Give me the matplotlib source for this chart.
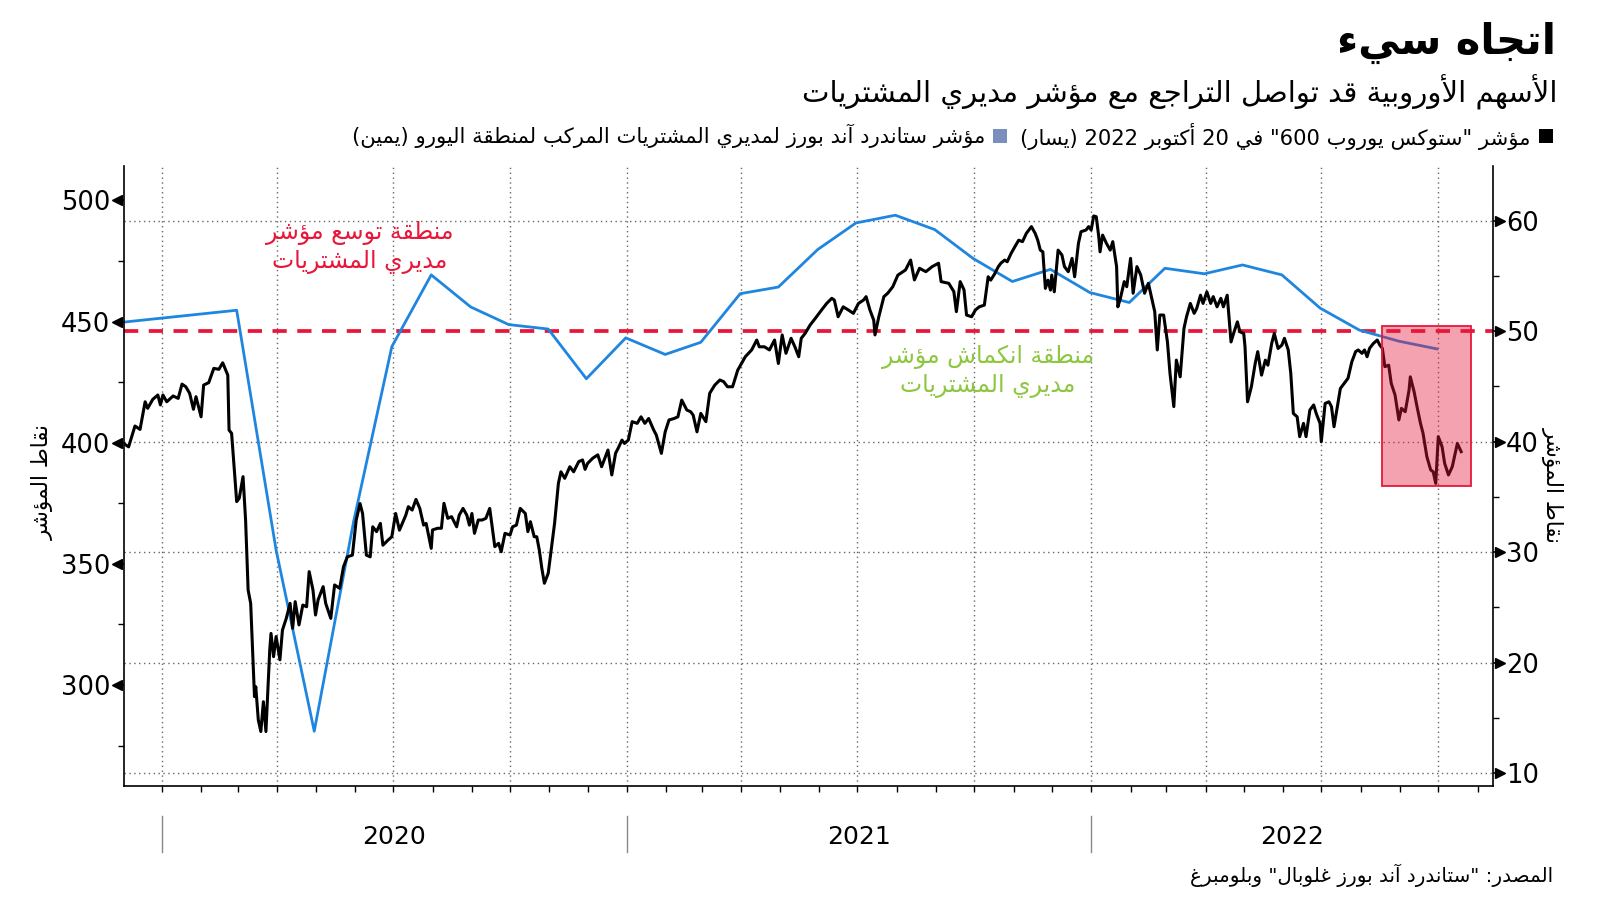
import re
import numpy as np
import pandas as pd
import matplotlib
matplotlib.use('Agg')
import matplotlib.pyplot as plt
import matplotlib.dates as mdates
from matplotlib import transforms
from matplotlib.patches import Rectangle

plt.rcParams['font.family'] = ['DejaVu Sans']

# STOXX Europe 600 (days after 2020-01-01, index points)
stoxx_day = [-30, -26, -21, -17, -13, -11, -7, -3, -1, 1, 4, 9, 13, 16, 19, 22, 25, 27, 31, 33,
             37, 41, 45, 48, 52, 53, 55, 59, 61, 64, 66, 68, 70, 73, 74, 76, 78, 80, 82, 85,
             86, 88, 90, 93, 95, 98, 101, 103, 105, 108, 111, 114, 116, 119, 121, 123, 127, 129, 133, 136,
             140, 143, 146, 150, 153, 156, 158, 161, 164, 166, 169, 172, 174, 178, 181, 184, 187, 192, 194, 197,
             200, 203, 206, 208, 212, 213, 217, 220, 222, 225, 228, 232, 234, 237, 240, 242, 244, 246, 249, 252,
             255, 258, 262, 265, 267, 270, 274, 276, 279, 282, 286, 288, 290, 293, 295, 297, 299, 301, 304, 306,
             309, 312, 314, 317, 321, 324, 328, 331, 333, 335, 339, 343, 346, 351, 354, 357, 359, 362, 364, 367,
             370, 374, 377, 380, 383, 387, 389, 393, 396, 399, 403, 406, 409, 413, 416, 418, 421, 424, 428, 431,
             435, 439, 442, 445, 449, 453, 456, 459, 464, 468, 470, 474, 478, 482, 485, 488, 491, 495, 498, 501,
             503, 506, 510, 514, 519, 523, 527, 529, 532, 536, 540, 544, 548, 552, 554, 557, 560, 561, 564, 568,
             571, 575, 579, 585, 589, 592, 596, 601, 606, 611, 613, 619, 623, 625, 628, 631, 633, 637, 640, 643,
             647, 650, 652, 655, 658, 660, 663, 665, 668, 671, 674, 677, 680, 684, 687, 689, 691, 693, 695, 697,
             699, 700, 702, 705, 708, 710, 713, 716, 718, 721, 723, 727, 729, 731, 733, 735, 737, 738, 740, 743,
             746, 748, 751, 752, 754, 757, 759, 762, 764, 767, 770, 773, 776, 779, 781, 783, 785, 788, 791, 793,
             796, 798, 801, 804, 806, 809, 812, 814, 817, 819, 822, 825, 827, 830, 833, 835, 838, 841, 843, 846,
             848, 851, 852, 854, 857, 860, 862, 865, 868, 870, 873, 875, 878, 881, 883, 886, 888, 890, 893, 895,
             898, 900, 903, 906, 908, 911, 912, 915, 918, 920, 922, 925, 927, 929, 933, 936, 939, 941, 944, 946,
             948, 950, 953, 956, 958, 960, 962, 965, 967, 970, 973, 975, 978, 981, 982, 985, 987, 990, 992, 995,
             998, 1000, 1002, 1004, 1007, 1009, 1012, 1015, 1019, 1022]
stoxx_val = [399.7, 398.3, 406.9, 405.5, 416.9, 414.2, 417.9, 419.7, 415.6, 419.7, 416.9, 419.3, 418.3, 424.2, 423.1, 420.4, 413.8, 419.0, 410.7, 423.8,
             424.8, 430.7, 430.3, 433.0, 427.9, 405.2, 403.9, 375.7, 377.1, 386.0, 368.1, 339.2, 333.7, 295.2, 299.3, 285.6, 280.8, 293.1, 280.8, 314.5,
             321.3, 311.7, 320.0, 310.4, 322.7, 327.5, 333.7, 323.4, 334.4, 324.8, 333.0, 332.3, 346.8, 339.2, 328.9, 335.1, 340.6, 333.7, 327.5, 341.3,
             339.9, 348.8, 352.9, 353.6, 368.1, 374.9, 370.8, 353.6, 352.9, 365.3, 363.3, 366.7, 357.7, 359.8, 361.2, 370.8, 363.9, 370.1, 373.6, 372.2,
             376.6, 372.9, 366.0, 366.7, 356.4, 364.0, 364.7, 364.7, 375.0, 368.8, 369.5, 365.3, 370.1, 372.9, 370.1, 366.0, 370.8, 362.6, 368.1, 368.1,
             368.8, 372.9, 357.1, 358.5, 355.0, 362.6, 361.9, 365.3, 366.0, 372.9, 370.8, 363.3, 367.4, 361.2, 361.2, 355.7, 348.1, 342.0, 346.1, 354.3,
             366.7, 383.2, 388.0, 385.3, 390.1, 388.0, 392.2, 392.9, 389.0, 391.5, 393.6, 395.0, 390.1, 397.0, 386.7, 395.7, 397.7, 401.1, 399.7, 401.1,
             408.7, 408.0, 410.7, 408.0, 410.0, 405.2, 403.2, 395.6, 404.5, 409.4, 410.0, 410.7, 417.6, 413.5, 412.8, 411.4, 404.5, 412.1, 408.7, 420.4,
             423.8, 425.9, 425.2, 423.1, 423.1, 429.9, 432.7, 435.5, 438.3, 442.4, 439.6, 439.6, 438.3, 442.4, 432.7, 444.5, 436.9, 443.1, 439.6, 435.5,
             443.1, 445.1, 448.6, 451.3, 454.8, 457.5, 459.6, 458.9, 452.0, 456.1, 454.8, 453.4, 457.5, 458.9, 460.3, 454.8, 450.6, 444.5, 452.0, 460.3,
             461.7, 464.4, 469.2, 471.3, 475.4, 467.2, 472.0, 470.6, 472.7, 474.1, 466.5, 465.8, 462.4, 454.1, 466.5, 463.1, 452.7, 452.0, 454.8, 456.1,
             456.8, 468.5, 467.1, 469.6, 472.7, 474.1, 475.4, 474.7, 478.1, 480.9, 483.6, 483.0, 486.4, 489.2, 486.4, 483.6, 479.5, 478.8, 463.7, 467.1,
             463.0, 469.2, 462.3, 479.5, 477.5, 472.7, 470.6, 476.1, 468.5, 482.3, 487.1, 487.8, 489.2, 487.8, 493.6, 493.3, 485.0, 478.8, 485.7, 482.3,
             479.5, 483.0, 472.7, 456.1, 459.6, 466.5, 464.4, 476.1, 461.7, 472.7, 469.2, 461.7, 465.8, 458.9, 454.1, 438.3, 452.7, 452.7, 441.6, 428.6,
             414.9, 434.1, 427.2, 447.2, 452.0, 457.5, 453.4, 455.4, 460.9, 457.5, 462.3, 457.5, 460.3, 456.1, 459.6, 456.1, 460.9, 441.6, 445.1, 449.9,
             445.8, 445.1, 439.6, 416.9, 423.1, 432.7, 437.6, 427.9, 434.1, 432.0, 441.0, 445.1, 438.9, 440.3, 443.1, 438.3, 428.6, 412.1, 410.7, 402.5,
             408.0, 402.5, 413.5, 415.6, 412.1, 408.0, 400.4, 416.2, 416.9, 414.9, 406.6, 416.2, 422.4, 423.8, 426.6, 433.4, 437.6, 438.3, 436.9, 438.3,
             435.5, 439.0, 441.0, 442.4, 440.3, 439.0, 431.4, 432.0, 424.5, 419.7, 409.4, 414.2, 412.8, 421.7, 427.2, 421.0, 415.6, 408.0, 403.9, 394.3,
             388.8, 388.0, 383.2, 402.5, 398.3, 391.5, 386.7, 390.1, 399.7, 396.3]

# S&P Global eurozone composite PMI, monthly (right axis)
pmi_month = ['2019-11-30', '2020-02-29', '2020-03-31', '2020-04-30', '2020-05-31', '2020-06-30',
             '2020-07-31', '2020-08-31', '2020-09-30', '2020-10-31', '2020-11-30', '2020-12-31',
             '2021-01-31', '2021-02-28', '2021-03-31', '2021-04-30', '2021-05-31', '2021-06-30',
             '2021-07-31', '2021-08-31', '2021-09-30', '2021-10-31', '2021-11-30', '2021-12-31',
             '2022-01-31', '2022-02-28', '2022-03-31', '2022-04-30', '2022-05-31', '2022-06-30',
             '2022-07-31', '2022-08-31', '2022-09-30']
pmi_val = [50.8, 51.9, 30.2, 13.8, 32.8, 48.6, 55.1, 52.2, 50.6, 50.2, 45.7, 49.4,
           47.9, 49.0, 53.4, 54.0, 57.4, 59.8, 60.5, 59.2, 56.6, 54.5, 55.6, 53.5,
           52.6, 55.7, 55.2, 56.0, 55.1, 52.1, 50.1, 49.1, 48.4]

left_ticks = [300, 350, 400, 450, 500]
right_ticks = [10, 20, 30, 40, 50, 60]
years = [2020, 2021, 2022]
box_dates = ['2022-08-18', '2022-10-27']
box_range = [382, 448]

RED = '#e8173a'
BLUE = '#1f86e0'
GREEN = '#8dc63f'

# --- tiny arabic shaper (matplotlib has no shaping / bidi) ---
dual = {'ئ': 0xFE89, 'ب': 0xFE8F, 'ت': 0xFE95, 'ث': 0xFE99, 'ج': 0xFE9D, 'ح': 0xFEA1, 'خ': 0xFEA5,
        'س': 0xFEB1, 'ش': 0xFEB5, 'ص': 0xFEB9, 'ض': 0xFEBD, 'ط': 0xFEC1, 'ظ': 0xFEC5, 'ع': 0xFEC9,
        'غ': 0xFECD, 'ف': 0xFED1, 'ق': 0xFED5, 'ك': 0xFED9, 'ل': 0xFEDD, 'م': 0xFEE1, 'ن': 0xFEE5,
        'ه': 0xFEE9, 'ي': 0xFEF1}
right = {'آ': 0xFE81, 'أ': 0xFE83, 'ؤ': 0xFE85, 'إ': 0xFE87, 'ا': 0xFE8D, 'ة': 0xFE93, 'د': 0xFEA9,
         'ذ': 0xFEAB, 'ر': 0xFEAD, 'ز': 0xFEAF, 'و': 0xFEED, 'ى': 0xFEEF}
lamalef = {'آ': 0xFEF5, 'أ': 0xFEF7, 'إ': 0xFEF9, 'ا': 0xFEFB}


def shape(s):
    out = []
    i = 0
    while i < len(s):
        c = s[i]
        p = i > 0 and s[i - 1] in dual
        nx = s[i + 1] if i + 1 < len(s) else ''
        if c == 'ل' and nx in lamalef:
            out.append(chr(lamalef[nx] + (1 if p else 0)))
            i += 2
            continue
        if c in dual:
            q = nx in dual or nx in right
            out.append(chr(dual[c] + (3 if p and q else 1 if p else 2 if q else 0)))
        elif c in right:
            out.append(chr(right[c] + (1 if p else 0)))
        else:
            out.append(c)
        i += 1
    return ''.join(out)


def ar(s):
    lines = []
    for line in s.split('\n'):
        t = shape(line)[::-1]
        t = re.sub(r'[0-9][0-9.,]*', lambda m: m.group(0)[::-1], t)
        lines.append(t.translate(str.maketrans('()', ')(')))
    return '\n'.join(lines)


dates = pd.Timestamp('2020-01-01') + pd.to_timedelta(stoxx_day, unit='D')
pmi_dates = pd.to_datetime(pmi_month)

fig = plt.figure(figsize=(16, 9.01), dpi=100)
ax = fig.add_axes([0.0772, 0.1276, 0.8559, 0.6881])
ax2 = ax.twinx()
ax.set_zorder(2)
ax.patch.set_visible(False)
ax2.set_zorder(1)

ax.set_xlim(pd.Timestamp('2019-12-02'), pd.Timestamp('2022-11-13'))
ax.set_ylim(258.3, 514.2)
ax2.set_ylim(8.84, 64.95)

# grid (behind everything); the 50 line is replaced by the red dashed line
for q in pd.date_range('2020-01-01', '2022-10-01', freq='QS'):
    ax2.axvline(q, color='#666666', lw=1, ls=(0, (1, 2.5)), zorder=0)
for t in right_ticks:
    if t != 50:
        ax2.axhline(t, color='#666666', lw=1, ls=(0, (1, 2.5)), zorder=0)

ax2.axhline(50, color=RED, lw=2.7, dashes=(3.8, 2.8), zorder=2)
ax2.plot(pmi_dates, pmi_val, color=BLUE, lw=2.0, zorder=3)
ax.plot(dates, stoxx_val, color='black', lw=2.2, zorder=3, solid_joinstyle='round')

x0 = mdates.date2num(pd.Timestamp(box_dates[0]))
x1 = mdates.date2num(pd.Timestamp(box_dates[1]))
ax.add_patch(Rectangle((x0, box_range[0]), x1 - x0, box_range[1] - box_range[0],
                       facecolor=RED, alpha=0.4, edgecolor='none', zorder=5))
ax.add_patch(Rectangle((x0, box_range[0]), x1 - x0, box_range[1] - box_range[0],
                       facecolor='none', edgecolor=RED, lw=1.3, zorder=5))

# spines
for s in ['top', 'right']:
    ax.spines[s].set_visible(False)
for s in ['top', 'left', 'bottom']:
    ax2.spines[s].set_visible(False)
ax.spines['left'].set_linewidth(1.2)
ax.spines['bottom'].set_linewidth(1.2)
ax2.spines['right'].set_linewidth(1.2)

# y ticks with arrow heads
ax.set_yticks(left_ticks)
ax.set_yticks(np.arange(275, 500, 50), minor=True)
ax.tick_params(axis='y', which='major', length=6.5, width=1.2, pad=3, labelsize=18.5)
ax.tick_params(axis='y', which='minor', length=4, width=1)
ax2.set_yticks(right_ticks)
ax2.set_yticks(np.arange(15, 60, 10), minor=True)
ax2.tick_params(axis='y', which='major', length=6.5, width=1.2, pad=3, labelsize=18.5)
ax2.tick_params(axis='y', which='minor', length=4, width=1)

trl = transforms.offset_copy(transforms.blended_transform_factory(ax.transAxes, ax.transData),
                             fig=fig, x=-5, y=0, units='points')
ax.plot([0] * len(left_ticks), left_ticks, ls='none', marker='<', ms=6.5, color='black',
        transform=trl, clip_on=False)
trr = transforms.offset_copy(transforms.blended_transform_factory(ax2.transAxes, ax2.transData),
                             fig=fig, x=5, y=0, units='points')
ax2.plot([1] * len(right_ticks), right_ticks, ls='none', marker='>', ms=6.5, color='black',
         transform=trr, clip_on=False)

# x axis: monthly ticks, years below
ax.xaxis.set_major_locator(mdates.MonthLocator(bymonth=[1, 4, 7, 10]))
ax.xaxis.set_minor_locator(mdates.MonthLocator())
ax.tick_params(axis='x', which='both', length=4.5, width=1, labelbottom=False)

xt = transforms.blended_transform_factory(ax.transData, ax.transAxes)
x_end = ax.get_xlim()[1]
for y in years:
    start = mdates.date2num(pd.Timestamp(f'{y}-01-01'))
    end = min(mdates.date2num(pd.Timestamp(f'{y + 1}-01-01')), x_end)
    ax.plot([start, start], [-0.048, -0.106], color='#888888', lw=1, transform=xt, clip_on=False)
    ax.text((start + end) / 2, -0.082, str(y), transform=xt, ha='center', va='center', fontsize=18)

# annotations
ax2.text(pd.Timestamp('2020-06-05'), 57.6, ar('منطقة توسع مؤشر\nمديري المشتريات'), color=RED,
         fontsize=17, ha='center', va='center', linespacing=1.2, zorder=4)
ax2.text(pd.Timestamp('2021-10-12'), 46.4, ar('منطقة انكماش مؤشر\nمديري المشتريات'), color=GREEN,
         fontsize=17, ha='center', va='center', linespacing=1.2, zorder=4)

# axis titles
fig.text(0.0268, 0.465, ar('نقاط المؤشر'), rotation=90, ha='center', va='center', fontsize=15.5)
fig.text(0.9706, 0.462, ar('نقاط المؤشر'), rotation=270, ha='center', va='center', fontsize=15.5)

# header
fig.text(1556 / 1600, 1 - 43 / 901, ar('اتجاه سيء'), ha='right', va='center',
         fontsize=30, fontweight='bold')
fig.text(1557 / 1600, 1 - 92 / 901, ar('الأسهم الأوروبية قد تواصل التراجع مع مؤشر مديري المشتريات'),
         ha='right', va='center', fontsize=21)

# legend row
fig.add_artist(Rectangle((1539 / 1600, 1 - 143 / 901), 14 / 1600, 14 / 901, transform=fig.transFigure,
                         facecolor='black', edgecolor='none'))
fig.text(1531 / 1600, 1 - 136 / 901, ar('مؤشر "ستوكس يوروب 600" في 20 أكتوبر 2022 (يسار)'),
         ha='right', va='center', fontsize=15.2)
fig.add_artist(Rectangle((993 / 1600, 1 - 143 / 901), 14 / 1600, 14 / 901, transform=fig.transFigure,
                         facecolor='#7b8fbd', edgecolor='none'))
fig.text(985 / 1600, 1 - 136 / 901, ar('مؤشر ستاندرد آند بورز لمديري المشتريات المركب لمنطقة اليورو (يمين)'),
         ha='right', va='center', fontsize=15.2)

fig.text(1553 / 1600, 1 - 875 / 901, ar('المصدر: "ستاندرد آند بورز غلوبال" وبلومبرغ'),
         ha='right', va='center', fontsize=14.3)

fig.savefig('out.png', dpi=100, facecolor='white')
